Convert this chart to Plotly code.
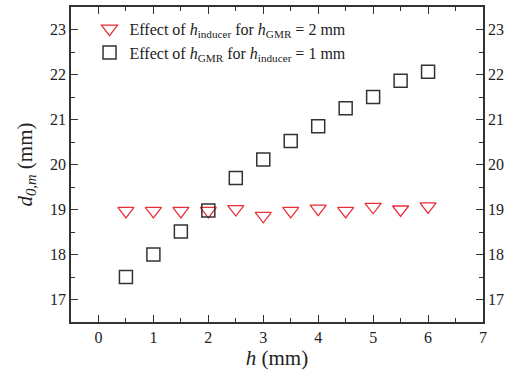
import plotly.graph_objects as go

h_values = [0.5, 1.0, 1.5, 2.0, 2.5, 3.0, 3.5, 4.0, 4.5, 5.0, 5.5, 6.0]
d_inducer_effect = [18.97, 18.97, 18.97, 18.97, 19.01, 18.86, 18.97, 19.02, 18.97, 19.06, 19.0, 19.07]
d_gmr_effect = [17.5, 18.0, 18.51, 18.98, 19.7, 20.11, 20.52, 20.85, 21.25, 21.5, 21.86, 22.06]
x_ticks = [0, 1, 2, 3, 4, 5, 6, 7]
y_ticks = [17, 18, 19, 20, 21, 22, 23]

name_inducer = "Effect of <i>h</i><sub>inducer</sub> for <i>h</i><sub>GMR</sub> = 2 mm"
name_gmr = "Effect of <i>h</i><sub>GMR</sub> for <i>h</i><sub>inducer</sub> = 1 mm"

FONT = "Liberation Serif, Times New Roman, serif"
AX = "#333333"

fig = go.Figure()
fig.add_trace(go.Scatter(
    x=h_values, y=d_inducer_effect, mode="markers", name=name_inducer,
    marker=dict(symbol="triangle-down-open", size=14, color="#e8303a", line=dict(width=1.3)),
))
fig.add_trace(go.Scatter(
    x=h_values, y=d_gmr_effect, mode="markers", name=name_gmr,
    marker=dict(symbol="square-open", size=13, color="#333333", line=dict(width=1.5)),
))
fig.add_trace(go.Scatter(x=[None], y=[None], yaxis="y2", showlegend=False, hoverinfo="skip"))

minor = dict(ticks="inside", ticklen=4, tickwidth=1.2, tickcolor=AX, dtick=0.5)
common = dict(
    showgrid=False, zeroline=False, showline=True, linecolor=AX, linewidth=1.5,
    ticks="inside", ticklen=7, tickwidth=1.3, tickcolor=AX,
    tickfont=dict(family=FONT, size=16, color="#222222"),
    minor=minor,
)

fig.update_layout(
    width=523, height=377,
    margin=dict(l=71, r=40, t=5, b=55),
    paper_bgcolor="white", plot_bgcolor="white",
    font=dict(family=FONT, color="#222222"),
    xaxis=dict(range=[-0.5, 7], tickvals=x_ticks, mirror="ticks",
               title=dict(text="<i>h</i> (mm)", font=dict(family=FONT, size=21), standoff=5),
               **common),
    yaxis=dict(range=[16.5, 23.5], tickvals=y_ticks, mirror=True,
               title=dict(text="<i>d</i><sub><i>0,m</i></sub> (mm)", font=dict(family=FONT, size=21), standoff=12),
               **common),
    yaxis2=dict(range=[16.5, 23.5], tickvals=y_ticks, overlaying="y", side="right", anchor="x",
                **common),
    legend=dict(x=0.045, y=0.985, xanchor="left", yanchor="top", bgcolor="rgba(0,0,0,0)",
                font=dict(family=FONT, size=16, color="#222222"), tracegroupgap=0, itemwidth=30),
    showlegend=True,
)

fig.write_html("out.html", config={"displayModeBar": False},
               post_script="document.body.style.margin='0';")
